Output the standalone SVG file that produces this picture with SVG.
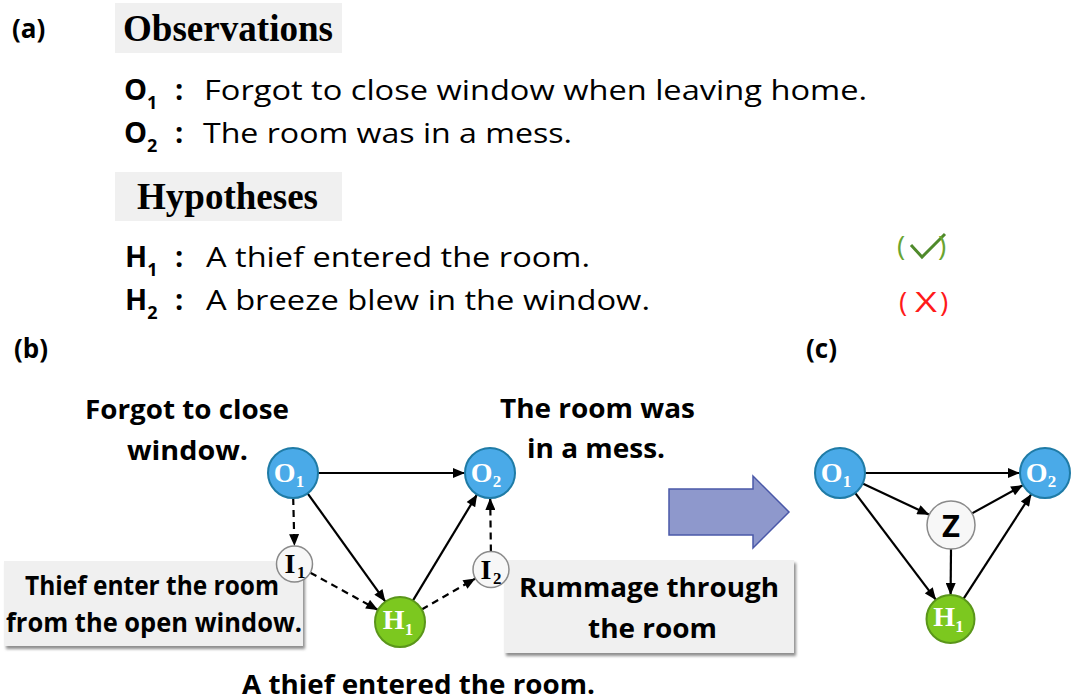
<svg xmlns="http://www.w3.org/2000/svg" width="1080" height="700" viewBox="0 0 1080 700">
<style>
.lbl{font-family:"Open Sans","Liberation Sans",sans-serif;font-weight:700;fill:#000}
.txt{font-family:"Open Sans","Liberation Sans",sans-serif;font-size:28px;fill:#000}
.key{font-family:"Open Sans","Liberation Sans",sans-serif;font-weight:700;font-size:29px;fill:#000}
.sub{font-size:18px}
.head{font-family:"Liberation Serif","Times New Roman",serif;font-weight:700;font-size:37px;fill:#000}
.blab{font-family:"Open Sans","Liberation Sans",sans-serif;font-weight:700;font-size:27px;fill:#000;text-anchor:middle}
.ob{fill:#4aaae8;stroke:#1f7ba6;stroke-width:2}
.hn{fill:#7cc81f;stroke:#5a961a;stroke-width:2}
.inn{fill:#f7f7f7;stroke:#8a8a8a;stroke-width:1.5}
.nt{font-family:"Liberation Serif","Times New Roman",serif;font-weight:700;font-size:28px;text-anchor:middle}
.nts{font-size:17px}
.e{stroke:#000;stroke-width:2.2;fill:none;marker-end:url(#ah)}
.d{stroke-dasharray:7 5}
.box{fill:#f0f0f0}
</style>
<defs>
<marker id="ah" viewBox="0 0 12 10" refX="12" refY="5" markerWidth="13" markerHeight="10" markerUnits="userSpaceOnUse" orient="auto">
<path d="M0,0 L12,5 L0,10 Z" fill="#000"/>
</marker>
<filter id="sh" x="-5%" y="-10%" width="110%" height="130%">
<feGaussianBlur stdDeviation="1.5"/>
</filter>
</defs>
<rect width="1080" height="700" fill="#fff"/>

<g id="panel-a">
<text class="lbl" x="12" y="38" font-size="26">(a)</text>
<rect class="box" x="115" y="3" width="227" height="50"/>
<text class="head" x="123" y="41" textLength="210" lengthAdjust="spacingAndGlyphs">Observations</text>
<text class="key" x="124" y="100">O<tspan class="sub" dy="9">1</tspan></text>
<text class="key" x="175" y="100">:</text>
<text class="txt" x="204" y="100" textLength="663" lengthAdjust="spacingAndGlyphs">Forgot to close window when leaving home.</text>
<text class="key" x="124" y="143">O<tspan class="sub" dy="9">2</tspan></text>
<text class="key" x="175" y="143">:</text>
<text class="txt" x="203" y="143" textLength="369" lengthAdjust="spacingAndGlyphs">The room was in a mess.</text>
<rect class="box" x="115" y="172" width="227" height="49"/>
<text class="head" x="137" y="209" textLength="181" lengthAdjust="spacingAndGlyphs">Hypotheses</text>
<text class="key" x="125" y="267">H<tspan class="sub" dy="9">1</tspan></text>
<text class="key" x="175" y="267">:</text>
<text class="txt" x="206" y="267" textLength="384" lengthAdjust="spacingAndGlyphs">A thief entered the room.</text>
<text class="key" x="125" y="310">H<tspan class="sub" dy="9">2</tspan></text>
<text class="key" x="175" y="310">:</text>
<text class="txt" x="206" y="310" textLength="444" lengthAdjust="spacingAndGlyphs">A breeze blew in the window.</text>
<g id="check">
<text class="txt" x="897" y="256" style="fill:#6aa531">(</text>
<path d="M911,245 L922,257 L945,234" fill="none" stroke="#4f8a2b" stroke-width="3"/>
<text class="txt" x="938" y="256" style="fill:#6aa531">)</text>
</g>
<g id="cross">
<text class="txt" x="899" y="312" style="fill:#ff1a1a">(</text>
<text class="txt" x="915" y="312" style="fill:#ff1a1a" textLength="22" lengthAdjust="spacingAndGlyphs">X</text>
<text class="txt" x="940" y="312" style="fill:#ff1a1a">)</text>
</g>
</g>

<text class="lbl" x="14" y="358" font-size="26">(b)</text>
<text class="lbl" x="806" y="358" font-size="26">(c)</text>

<g id="b-labels">
<text class="blab" x="187" y="419" textLength="204" lengthAdjust="spacingAndGlyphs">Forgot to close</text>
<text class="blab" x="187.5" y="460" textLength="121" lengthAdjust="spacingAndGlyphs">window.</text>
<text class="blab" x="597.5" y="418" textLength="195" lengthAdjust="spacingAndGlyphs">The room was</text>
<text class="blab" x="596" y="458" textLength="138" lengthAdjust="spacingAndGlyphs">in a mess.</text>
<text class="blab" x="418.5" y="694" textLength="353" lengthAdjust="spacingAndGlyphs">A thief entered the room.</text>
</g>

<g id="box-left">
<rect x="6" y="564" width="299" height="85" fill="#8c8c8c" filter="url(#sh)"/>
<rect class="box" x="4" y="561" width="299" height="85"/>
<text class="blab" x="152" y="595" textLength="254" lengthAdjust="spacingAndGlyphs">Thief enter the room</text>
<text class="blab" x="154" y="632" textLength="296" lengthAdjust="spacingAndGlyphs">from the open window.</text>
</g>

<g id="box-right">
<rect x="506" y="563" width="290" height="93" fill="#8c8c8c" filter="url(#sh)"/>
<rect class="box" x="504" y="560" width="290" height="93"/>
<text class="blab" x="649" y="597" textLength="260" lengthAdjust="spacingAndGlyphs">Rummage through</text>
<text class="blab" x="652.5" y="638" textLength="129" lengthAdjust="spacingAndGlyphs">the room</text>
</g>

<g id="big-arrow">
<polygon points="669,489 753,489 753,476 789,512 753,548 753,535 669,535" fill="#8e98cc" stroke="#4a58a8" stroke-width="1.5"/>
</g>

<g id="connectors">
<line class="e" x1="318" y1="473" x2="465" y2="473"/>
<line class="e" x1="307.6" y1="493.3" x2="385.4" y2="601.7"/>
<line class="e" x1="412.9" y1="600.6" x2="477.1" y2="494.4"/>
<line class="e d" x1="293.2" y1="498" x2="294.4" y2="546"/>
<line class="e d" x1="310.3" y1="572.7" x2="378.1" y2="610"/>
<line class="e d" x1="421.7" y1="609.5" x2="475.4" y2="578.5"/>
<line class="e d" x1="490.9" y1="551.5" x2="490.2" y2="498"/>
<line class="e" x1="865" y1="473" x2="1020" y2="473"/>
<line class="e" x1="862.6" y1="483.6" x2="929.3" y2="514.8"/>
<line class="e" x1="855.1" y1="492.9" x2="936" y2="599.9"/>
<line class="e" x1="951" y1="549" x2="950.6" y2="595"/>
<line class="e" x1="972" y1="513.4" x2="1023.1" y2="485.1"/>
<line class="e" x1="963.5" y1="598.9" x2="1031.4" y2="494"/>
</g>

<g id="b-O1"><circle class="ob" cx="293" cy="473" r="25"/><text class="nt" x="289" y="482" fill="#fff">O<tspan class="nts" dy="5">1</tspan></text></g>
<g id="b-O2"><circle class="ob" cx="490" cy="473" r="25"/><text class="nt" x="486" y="482" fill="#fff">O<tspan class="nts" dy="5">2</tspan></text></g>
<g id="b-I1"><circle class="inn" cx="294.5" cy="564" r="18"/><text class="nt" x="295" y="573" fill="#000" font-size="25">I<tspan class="nts" dx="1.5" dy="5">1</tspan></text></g>
<g id="b-I2"><circle class="inn" cx="491" cy="569.5" r="18"/><text class="nt" x="491" y="578.5" fill="#000" font-size="25">I<tspan class="nts" dx="1.5" dy="5">2</tspan></text></g>
<g id="b-H1"><circle class="hn" cx="400" cy="622" r="25"/><text class="nt" x="398" y="629" fill="#fff">H<tspan class="nts" dy="6">1</tspan></text></g>

<g id="c-O1"><circle class="ob" cx="840" cy="473" r="25"/><text class="nt" x="836" y="482" fill="#fff">O<tspan class="nts" dy="5">1</tspan></text></g>
<g id="c-O2"><circle class="ob" cx="1045" cy="473" r="25"/><text class="nt" x="1041" y="482" fill="#fff">O<tspan class="nts" dy="5">2</tspan></text></g>
<g id="c-Z"><circle class="inn" cx="951" cy="525" r="24"/><text x="951" y="537" text-anchor="middle" font-family="Open Sans, Liberation Sans, sans-serif" font-weight="700" font-size="31" fill="#000">Z</text></g>
<g id="c-H1"><circle class="hn" cx="950.5" cy="619" r="24"/><text class="nt" x="948.5" y="626" fill="#fff">H<tspan class="nts" dy="6">1</tspan></text></g>
</svg>
